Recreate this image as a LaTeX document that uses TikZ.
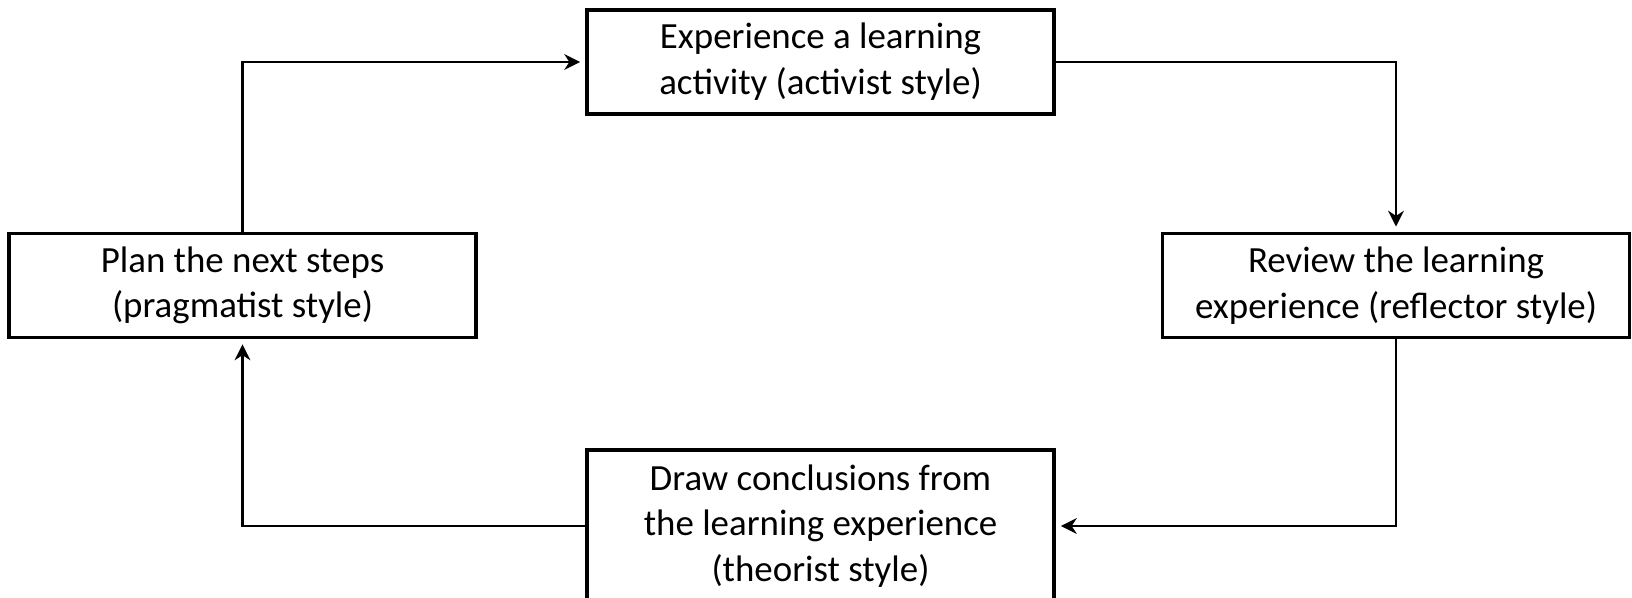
\documentclass[tikz,border=0pt]{standalone}
\usepackage{fontspec}
\setmainfont{Carlito}
\usetikzlibrary{arrows.meta,positioning}
\tikzstyle{arrow} = [line width=0.65pt, -{Stealth[length=4.5pt,width=4.5pt]}, shorten >=1.5pt]
\tikzstyle{stage} = [draw, line width=0.95pt, align=center, minimum width=4.67cm, minimum height=1.04cm, font=\fontsize{10.5}{13}\selectfont]

\begin{document}
\begin{tikzpicture}
\useasboundingbox (0,0) rectangle (16.32,5.97);
\clip (0,0) rectangle (16.32,5.97);
\node[stage] (exp) at (8.205,5.35) {Experience a learning\\activity (activist style)};
\node[stage] (rev) at (13.96,3.115) {Review the learning\\experience (reflector style)};
\node[stage, minimum height=1.52cm] (con) at (8.205,0.71) {Draw conclusions from\\the learning experience\\(theorist style)};
\node[stage] (plan) at (2.425,3.115) {Plan the next steps\\(pragmatist style)};

\draw[arrow] (plan.north) |- (exp.west);
\draw[arrow] (exp.east) -| (rev.north);
\draw[arrow] (rev.south) |- (con.east);
\draw[arrow] (con.west) -| (plan.south);
\end{tikzpicture}
\end{document}
